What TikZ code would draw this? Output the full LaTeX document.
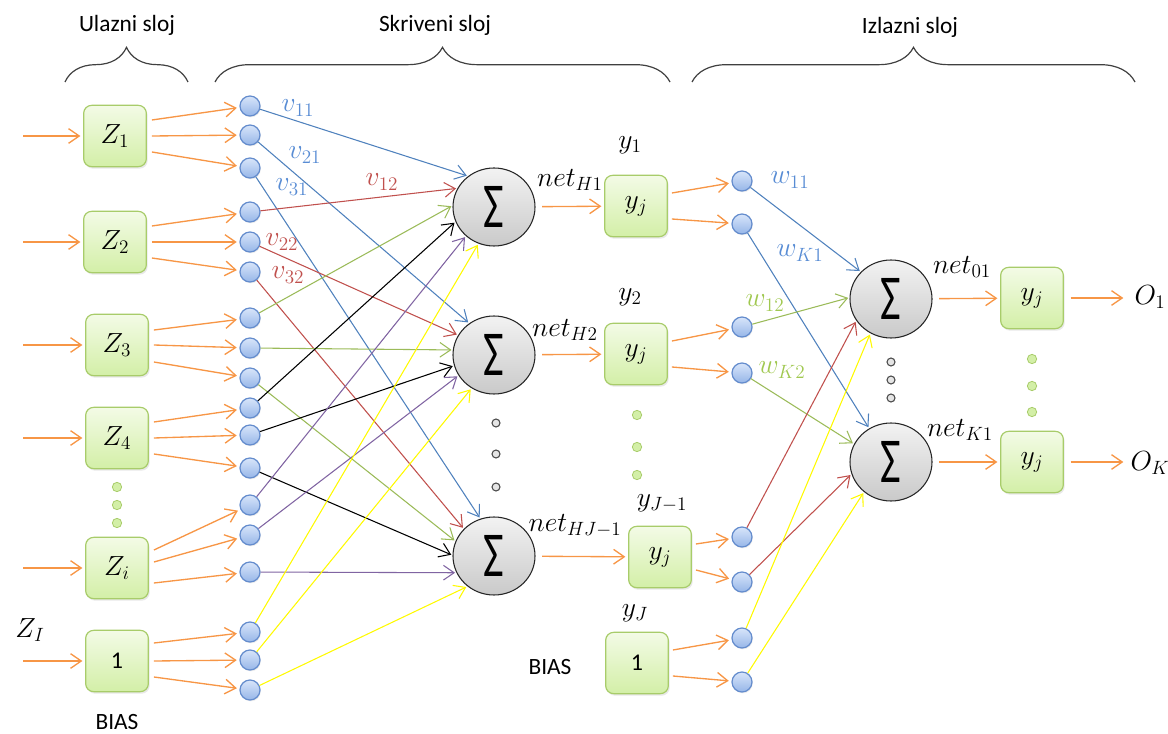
\documentclass[tikz,border=0pt]{standalone}
\usepackage{fontspec}
\setmainfont{Carlito}
\usetikzlibrary{arrows.meta,positioning,calc,decorations.pathreplacing,shapes.geometric,shadows}

\definecolor{narancasta}{RGB}{247,150,70}
\definecolor{plava}{RGB}{79,129,189}
\definecolor{plavitekst}{RGB}{88,140,212}
\definecolor{crvena}{RGB}{192,80,77}
\definecolor{zelena}{RGB}{155,187,89}
\definecolor{zelenitekst}{RGB}{160,200,80}
\definecolor{ljubicasta}{RGB}{128,100,162}
\definecolor{zuta}{RGB}{255,250,0}
\definecolor{okvir}{RGB}{168,204,106}
\definecolor{kutijagore}{RGB}{243,251,230}
\definecolor{kutijadolje}{RGB}{211,239,167}
\definecolor{tockaokvir}{RGB}{100,140,205}
\definecolor{tockagore}{RGB}{216,229,250}
\definecolor{tockadolje}{RGB}{150,182,232}

\tikzset{
  kutija/.style={rectangle,rounded corners=6pt,draw=okvir,line width=0.9pt,
    top color=kutijagore,bottom color=kutijadolje,minimum width=47pt,minimum height=46pt,
    drop shadow={opacity=0.18,shadow xshift=1pt,shadow yshift=-1.5pt}},
  tocka/.style={circle,draw=tockaokvir,line width=0.9pt,top color=tockagore,
    bottom color=tockadolje,minimum size=15pt,inner sep=0pt,
    drop shadow={opacity=0.15,shadow xshift=0.6pt,shadow yshift=-1pt}},
  zbroj/.style={ellipse,draw=black!85,line width=0.8pt,top color=gray!10,bottom color=gray!42,
    minimum width=61.5pt,minimum height=58.5pt,inner sep=0pt,
    font=\fontsize{48}{48}\selectfont},
  sivo/.style={circle,draw=black!70,fill=gray!20,minimum size=6pt,inner sep=0pt,line width=0.8pt},
  zeleno/.style={circle,draw=okvir,fill=kutijadolje,minimum size=7pt,inner sep=0pt,line width=0.6pt},
  strelica/.style={->,narancasta,line width=1pt,shorten >=2pt},
  veza/.style={->,line width=0.8pt,shorten >=1pt},
  zagrada/.style={decorate,decoration={brace,amplitude=26pt},draw=black!75,line width=0.9pt},
  naslov/.style={font=\fontsize{17.5}{21}\selectfont},
}

\begin{document}
\begin{tikzpicture}[x=0.75pt,y=-0.75pt,>={Straight Barb[length=8pt,width=11pt]},
  font=\fontsize{21}{25}\selectfont]
  \useasboundingbox (0,0) rectangle (1168,734);

  % naslovi slojeva
  \node[naslov] (ulaz) at (127,25) {Ulazni sloj};
  \node[naslov] (skriveni) at (435,25) {Skriveni sloj};
  \node[naslov] (izlaz) at (910,27) {Izlazni sloj};
  \draw[zagrada] (65,82) -- (188,82);
  \draw[zagrada] (215,82) -- (670,82);
  \draw[zagrada] (692,82) -- (1135,82);

  % ulazni sloj
  \foreach \ime/\x/\y/\tekst in {z1/115/136/$Z_1$,z2/115/242/$Z_2$,z3/117/345/$Z_3$,
      z4/117/438/$Z_4$,zi/117/568/$Z_i$,b1/117/661/{\fontsize{18}{21}\selectfont 1}}
  {
    \node[kutija] (\ime) at (\x,\y) {\tekst};
    \coordinate (u-\ime) at (23,\y);
    \draw[strelica] (u-\ime) -- (\ime);
  }
  \foreach \y [count=\i] in {487,505,523}
    \node[zeleno] (zd\i) at (117,\y) {};
  \node (zI) at (30,630) {$Z_I$};
  \node[naslov,inner sep=0pt] (bias1) at (117,722) {BIAS};

  % tocke skrivenog sloja
  \foreach \y [count=\i] in {106,135,168,212,242,272,318,348,378,408,435,468,505,535,572,632,660,690}
    \node[tocka] (c\i) at (250,\y) {};

  \foreach \ime/\prvi/\gore/\sred/\dolje in {z1/1/-16/0/16,z2/4/-16/0/16,z3/7/-15/0/17,
      z4/10/-16/0/16,zi/13/-18/-6/15,b1/16/-18/0/16}
  {
    \pgfmathtruncatemacro\drugi{\prvi+1}
    \pgfmathtruncatemacro\treci{\prvi+2}
    \draw[strelica] ([shift={(5,\gore)}]\ime.east) -- (c\prvi);
    \draw[strelica] ([shift={(5,\sred)}]\ime.east) -- (c\drugi);
    \draw[strelica] ([shift={(5,\dolje)}]\ime.east) -- (c\treci);
  }

  % sume skrivenog sloja
  \node[zbroj] (s1) at (494,207) {\scalebox{0.7}[1]{Σ}};
  \node[zbroj] (s2) at (494,355) {\scalebox{0.7}[1]{Σ}};
  \node[zbroj] (s3) at (494,556) {\scalebox{0.7}[1]{Σ}};
  \foreach \y [count=\i] in {423,454,487}
    \node[sivo] (sd\i) at (496,\y) {};

  \foreach \i/\cilj/\boja in {1/s1.130/plava,2/s2.128/plava,3/s3.110/plava,
      4/s1.153/crvena,5/s2.151/crvena,6/s3.138/crvena,
      7/s1.178/zelena,8/s2.173/zelena,9/s3.159/zelena,
      10/s1.201/black,11/s2.195/black,12/s3.179/black,
      13/s1.226/ljubicasta,14/s2.210/ljubicasta,15/s3.204/ljubicasta,
      16/s1.247/zuta,17/s2.236/zuta,18/s3.229/zuta}
    \draw[veza,\boja] (c\i) -- (\cilj);

  \node[plavitekst] (v11) at (298,108) {$v_{11}$};
  \node[plavitekst] (v21) at (305,155) {$v_{21}$};
  \node[plavitekst] (v31) at (292,187) {$v_{31}$};
  \node[crvena] (v12) at (382,182) {$v_{12}$};
  \node[crvena] (v22) at (282,242) {$v_{22}$};
  \node[crvena] (v32) at (288,275) {$v_{32}$};

  % izlazi skrivenog sloja
  \node[kutija] (y1) at (636,206) {$y_j$};
  \node[kutija] (y2) at (636,354) {$y_j$};
  \node[kutija] (y3) at (660,557) {$y_j$};
  \node[kutija] (b2) at (637,663) {\fontsize{18}{21}\selectfont 1};
  \foreach \y [count=\i] in {415,447,475}
    \node[zeleno] (yd\i) at (637,\y) {};
  \node (ly1) at (630,145) {$y_1$};
  \node (ly2) at (630,297) {$y_2$};
  \node (ly3) at (662,503) {$y_{J-1}$};
  \node (lyJ) at (635,613) {$y_J$};
  \node[naslov] (bias2) at (550,667) {BIAS};
  \node (net1) at (570,180) {$net_{H1}$};
  \node (net2) at (565,330) {$net_{H2}$};
  \node (net3) at (575,526) {$net_{HJ-1}$};
  \draw[strelica,shorten <=5pt] (s1) -- (y1);
  \draw[strelica,shorten <=5pt] (s2) -- (y2);
  \draw[strelica,shorten <=5pt] (s3) -- (y3);

  % tocke izlaznog sloja
  \foreach \y [count=\i] in {181,224,327,373,537,582,638,682}
    \node[tocka] (r\i) at (742,\y) {};
  \foreach \ime/\prvi in {y1/1,y2/3,y3/5,b2/7}
  {
    \pgfmathtruncatemacro\drugi{\prvi+1}
    \draw[strelica] ([shift={(4,-13)}]\ime.east) -- (r\prvi);
    \draw[strelica] ([shift={(4,13)}]\ime.east) -- (r\drugi);
  }

  % sume izlaznog sloja
  \node[zbroj] (s4) at (891,299) {\scalebox{0.7}[1]{Σ}};
  \node[zbroj] (s5) at (891,462) {\scalebox{0.7}[1]{Σ}};
  \foreach \y [count=\i] in {362,380,398}
    \node[sivo] (od\i) at (891,\y) {};
  \foreach \i/\cilj/\boja in {1/s4.138/plava,2/s5.123/plava,3/s4.178/zelena,4/s5.154/zelena,
      5/s4.212/crvena,6/s5.197/crvena,7/s4.239/zuta,8/s5.228/zuta}
    \draw[veza,\boja] (r\i) -- (\cilj);

  \node[plavitekst] (w11) at (790,180) {$w_{11}$};
  \node[plavitekst] (wK1) at (800,253) {$w_{K1}$};
  \node[zelenitekst] (w12) at (765,303) {$w_{12}$};
  \node[zelenitekst] (wK2) at (782,370) {$w_{K2}$};

  % izlazi
  \node[kutija] (o1) at (1032,298) {$y_j$};
  \node[kutija] (o2) at (1032,462) {$y_j$};
  \foreach \y [count=\i] in {359,386,412}
    \node[zeleno] (odz\i) at (1032,\y) {};
  \node (net4) at (962,267) {$net_{01}$};
  \node (net5) at (960,430) {$net_{K1}$};
  \draw[strelica,shorten <=5pt] (s4) -- (o1);
  \draw[strelica,shorten <=5pt] (s5) -- (o2);
  \coordinate (iz1) at (1126,298);
  \coordinate (iz2) at (1126,462);
  \draw[strelica,shorten <=5pt] (o1) -- (iz1);
  \draw[strelica,shorten <=5pt] (o2) -- (iz2);
  \node (O1) at (1150,297) {$O_1$};
  \node (OK) at (1150,463) {$O_K$};
\end{tikzpicture}
\end{document}
